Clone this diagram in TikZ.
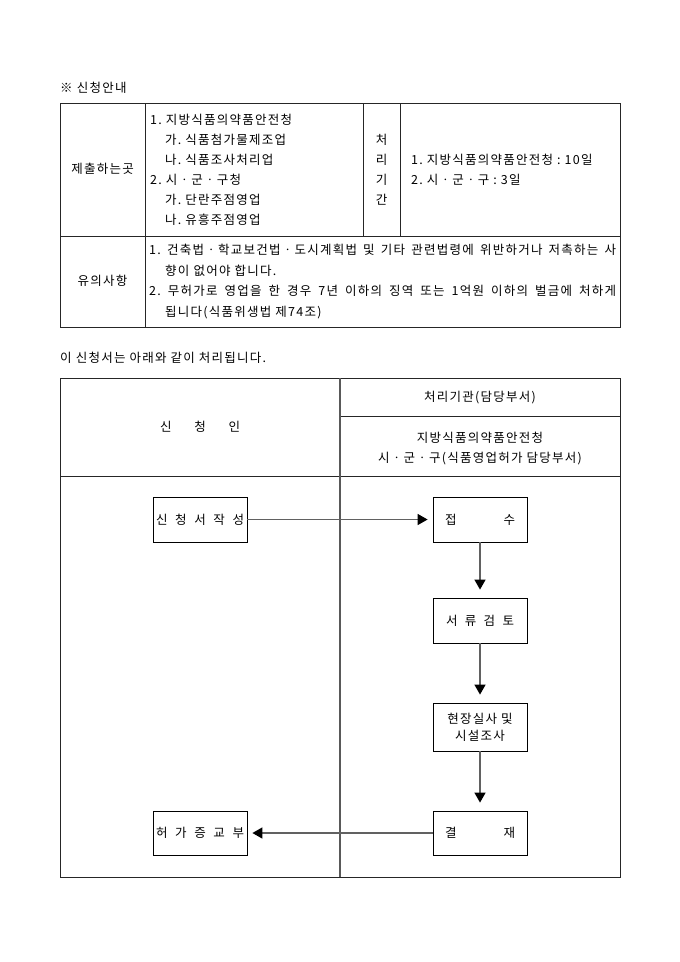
\documentclass[tikz,border=0pt]{standalone}
\usepackage{fontspec}
\setmainfont[LetterSpace=10]{Noto Sans CJK KR}
\usetikzlibrary{arrows.meta}
\frenchspacing
\begin{document}
\begin{tikzpicture}[x=1pt,y=-1pt,
  txt/.style={inner sep=0pt, font=\fontsize{12.5}{14}\selectfont},
  tline/.style={line width=0.9pt, draw=black!85},
  divline/.style={line width=1.2pt, draw=black!65},
  flowbox/.style={draw=black, line width=0.8pt, minimum width=94pt, minimum height=45pt, inner sep=0pt, font=\fontsize{12.5}{14}\selectfont},
  conn/.style={draw=black!62, line width=1.4pt, -{Triangle[length=10pt,width=11pt,color=black]}},
]
\useasboundingbox (0,0) rectangle (680,962);
\fill[white] (0,0) rectangle (680,962);

% ---------- heading ----------
\node[txt, anchor=base west] (head1) at (60,92.5) {※ 신청안내};

% ---------- table 1 ----------
\draw[tline] (60,103) rectangle (620,327);
\draw[tline] (60,236) -- (620,236);
\draw[tline] (145,103) -- (145,327);
\draw[tline] (363,103) -- (363,236);
\draw[tline] (400,103) -- (400,236);

\node[txt, anchor=base] (where) at (102.5,173.5) {제출하는곳};
\node[txt, anchor=base west] (wa) at (150,124.5) {1. 지방식품의약품안전청};
\node[txt, anchor=base west] (wb) at (165,144.5) {가. 식품첨가물제조업};
\node[txt, anchor=base west] (wc) at (165,164.5) {나. 식품조사처리업};
\node[txt, anchor=base west] (wd) at (150,184.5) {2. 시ㆍ군ㆍ구청};
\node[txt, anchor=base west] (we) at (165,204.5) {가. 단란주점영업};
\node[txt, anchor=base west] (wf) at (165,224.5) {나. 유흥주점영업};

\node[txt, anchor=base] (pa) at (381.5,144.5) {처};
\node[txt, anchor=base] (pb) at (381.5,164.5) {리};
\node[txt, anchor=base] (pc) at (381.5,184.5) {기};
\node[txt, anchor=base] (pd) at (381.5,204.5) {간};

\node[txt, anchor=base west] (da) at (411,164.5) {1. 지방식품의약품안전청 : 10일};
\node[txt, anchor=base west] (db) at (411,184.5) {2. 시ㆍ군ㆍ구 : 3일};

\node[txt, anchor=base] (note) at (102.5,285.5) {유의사항};
\node[txt, anchor=base west] (na) at (149,254.5) {\makebox[467pt][s]{1. 건축법ㆍ학교보건법ㆍ도시계획법 및 기타 관련법령에 위반하거나 저촉하는 사}};
\node[txt, anchor=base west] (nb) at (165,275.5) {향이 없어야 합니다.};
\node[txt, anchor=base west] (nc) at (149,295.5) {\makebox[467pt][s]{2. 무허가로 영업을 한 경우 7년 이하의 징역 또는 1억원 이하의 벌금에 처하게}};
\node[txt, anchor=base west] (nd) at (165,316.5) {됩니다(식품위생법 제74조)};

% ---------- heading 2 ----------
\node[txt, anchor=base west] (head2) at (60,362.5) {이 신청서는 아래와 같이 처리됩니다.};

% ---------- table 2 ----------
\draw[tline] (60,378) rectangle (620,877);
\draw[tline] (340,416) -- (620,416);
\draw[tline] (60,476) -- (620,476);
\draw[divline] (340,378) -- (340,877);

\node[txt, anchor=base] (org) at (480,401.5) {처리기관(담당부서)};
\node[txt, anchor=base] (appl) at (200,431.5) {\makebox[80pt][s]{신 청 인}};
\node[txt, anchor=base] (orga) at (480,442.5) {지방식품의약품안전청};
\node[txt, anchor=base] (orgb) at (480,462.5) {시ㆍ군ㆍ구(식품영업허가 담당부서)};

% ---------- flow ----------
\node[flowbox] (write) at (200,519.5) {\makebox[88pt][s]{신 청 서 작 성}};
\node[flowbox] (recv) at (480,519.5) {\makebox[70pt][s]{접\hfill 수}};
\node[flowbox] (review) at (480,620.5) {\makebox[68pt][s]{서 류 검 토}};
\node[flowbox, minimum height=48pt, align=center] (site) at (480,727) {현장실사 및\\[3pt]시설조사};
\node[flowbox, minimum height=44pt] (appr) at (480,833) {\makebox[70pt][s]{결\hfill 재}};
\node[flowbox, minimum height=44pt] (issue) at (200,833) {\makebox[88pt][s]{허 가 증 교 부}};

\draw[conn, shorten >=5pt] (write.east) -- (recv.west);
\draw[conn, shorten >=8pt] (recv.south) -- (review.north);
\draw[conn, shorten >=8pt] (review.south) -- (site.north);
\draw[conn, shorten >=8pt] (site.south) -- (appr.north);
\draw[conn, shorten >=5pt] (appr.west) -- (issue.east);
\end{tikzpicture}
\end{document}
